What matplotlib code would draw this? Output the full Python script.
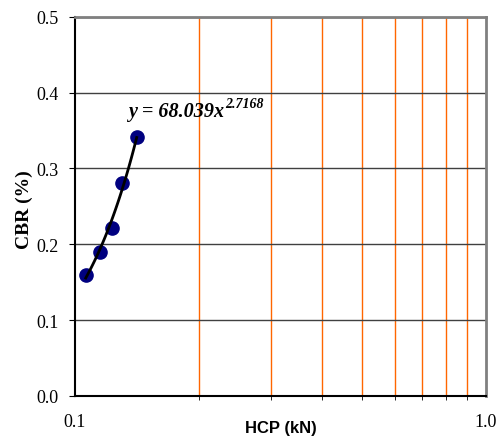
"""CBR vs HCP on a log x axis, power-law trend line."""
import matplotlib

matplotlib.use("Agg")
import matplotlib.pyplot as plt
import numpy as np
from matplotlib.ticker import FixedLocator, NullFormatter

hcp = [0.1062, 0.1152, 0.1228, 0.1299, 0.1413]
cbr = [0.160, 0.190, 0.221, 0.281, 0.342]
y_ticks = [0.0, 0.1, 0.2, 0.3, 0.4, 0.5]
x_ticks = [0.1, 1.0]
x_minor = [0.2, 0.3, 0.4, 0.5, 0.6, 0.7, 0.8, 0.9]
eq_base = "y = 68.039x"
eq_power = "2.7168"

SERIF = "Liberation Serif"
SANS = "Liberation Sans"

fig = plt.figure(figsize=(5.0, 4.39), dpi=100)
ax = fig.add_axes([0.15, 0.0957, 0.822, 0.864])

# power fit in log-log space for the trend line
b, a = np.polyfit(np.log(hcp), np.log(cbr), 1)
xs = np.linspace(min(hcp), max(hcp), 50)
ax.plot(xs, np.exp(a) * xs ** b, color="black", lw=2, zorder=3)
ax.plot(hcp, cbr, "o", color="#000080", ms=9.5, zorder=2)

ax.set_xscale("log")
ax.set_xlim(0.1, 1.0)
ax.set_ylim(0, 0.5)

ax.xaxis.set_major_locator(FixedLocator(x_ticks))
ax.xaxis.set_minor_locator(FixedLocator(x_minor))
ax.xaxis.set_minor_formatter(NullFormatter())
ax.set_xticklabels(["0.1", "1.0"])
ax.set_yticks(y_ticks)
ax.set_yticklabels([f"{v:.1f}" for v in y_ticks])

for lab in ax.get_xticklabels() + ax.get_yticklabels():
    lab.set_fontfamily(SERIF)
    lab.set_fontsize(13)

ax.tick_params(axis="x", which="major", length=0, pad=12)
ax.tick_params(axis="x", which="minor", length=3, direction="out", color="black")
ax.tick_params(axis="y", length=4, direction="out", pad=8)

ax.grid(axis="y", color="#404040", lw=1)
ax.grid(axis="x", which="minor", color="#ff6600", lw=1)
ax.set_axisbelow(True)

for side in ("left", "bottom"):
    ax.spines[side].set_color("black")
    ax.spines[side].set_linewidth(1.5)
for side in ("top", "right"):
    ax.spines[side].set_color("#808080")
    ax.spines[side].set_linewidth(2)

ax.set_xlabel("HCP (kN)", family=SANS, fontweight="bold", fontsize=12)
ax.xaxis.set_label_coords(0.5, -0.062)
ax.set_ylabel("CBR (%)", family=SERIF, fontweight="bold", fontsize=14)
ax.yaxis.set_label_coords(-0.102, 0.493)

t = ax.text(0.1346, 0.369, eq_base, family=SERIF, fontstyle="italic",
            fontweight="bold", fontsize=14.5, zorder=4)
ax.annotate(eq_power, xy=(1, 1), xycoords=t, xytext=(0.5, 3),
            textcoords="offset points", ha="left", va="top", family=SERIF,
            fontstyle="italic", fontweight="bold", fontsize=10, zorder=4)

fig.savefig("out.png", dpi=100)
